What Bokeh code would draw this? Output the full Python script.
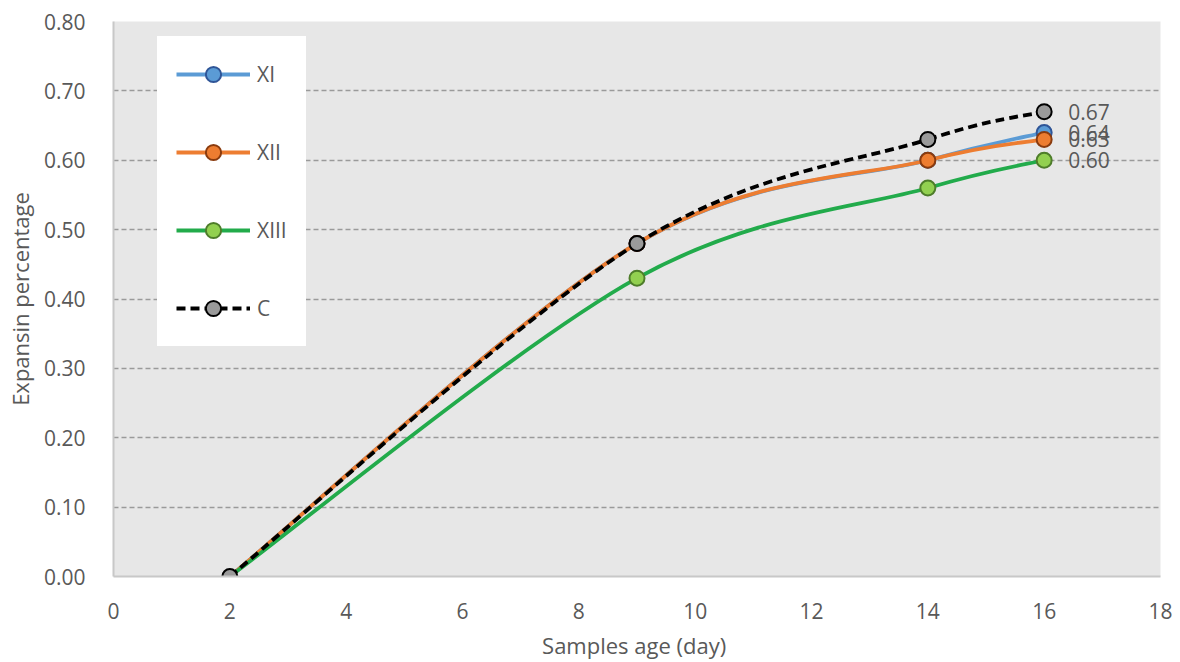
from bokeh.plotting import figure
from bokeh.models import ColumnDataSource, Legend, LegendItem, Range1d, FixedTicker, CustomJSTickFormatter
from bokeh.core.properties import value
from bokeh.embed import file_html
from bokeh.resources import INLINE

days = [2, 9, 14, 16]
series_names = ["XI", "XII", "XIII", "C"]
xi = [0.00, 0.48, 0.60, 0.64]
xii = [0.00, 0.48, 0.60, 0.63]
xiii = [0.00, 0.43, 0.56, 0.60]
c = [0.00, 0.48, 0.63, 0.67]
end_labels = ["0.64", "0.63", "0.60", "0.67"]

FONT = "Open Sans"
TXT = "#595959"

p = figure(width=1180, height=662, output_backend="svg", toolbar_location=None,
           x_range=Range1d(0, 18), y_range=Range1d(0, 0.8),
           min_border_left=113, min_border_right=20, min_border_top=21, min_border_bottom=86)
p.background_fill_color = "#e7e7e7"
p.border_fill_color = "white"
p.outline_line_color = None

p.xaxis.ticker = FixedTicker(ticks=list(range(0, 19, 2)))
p.yaxis.ticker = FixedTicker(ticks=[i / 10 for i in range(0, 9)])
p.yaxis.formatter = CustomJSTickFormatter(code="return tick.toFixed(2);")
for ax in (p.xaxis[0], p.yaxis[0]):
    ax.major_tick_line_color = None
    ax.minor_tick_line_color = None
    ax.axis_line_color = "#c8c8c8"
    ax.axis_line_width = 2
    ax.major_label_text_font = FONT
    ax.major_label_text_font_size = "21px"
    ax.major_label_text_color = TXT
    ax.axis_label_text_font = FONT
    ax.axis_label_text_font_size = "22px"
    ax.axis_label_text_color = TXT
    ax.axis_label_text_font_style = "normal"
p.xaxis.axis_label = "Samples  age (day)"
p.yaxis.axis_label = "Expansin percentage"
p.xaxis.major_label_standoff = 20
p.yaxis.major_label_standoff = 22
p.xaxis.axis_label_standoff = 8
p.yaxis.axis_label_standoff = 6

p.xgrid.grid_line_color = None
p.ygrid.grid_line_color = "#9a9a9a"
p.ygrid.grid_line_width = 1.5
p.ygrid.grid_line_dash = "5 3"


def smooth(xs, ys):
    n = len(xs)
    x0, y0, x1, y1, cx0, cy0, cx1, cy1 = [], [], [], [], [], [], [], []
    for i in range(n - 1):
        pm = max(i - 1, 0)
        pp = min(i + 2, n - 1)
        x0.append(xs[i]); y0.append(ys[i])
        x1.append(xs[i + 1]); y1.append(ys[i + 1])
        cx0.append(xs[i] + (xs[i + 1] - xs[pm]) / 6)
        cy0.append(ys[i] + (ys[i + 1] - ys[pm]) / 6)
        cx1.append(xs[i + 1] - (xs[pp] - xs[i]) / 6)
        cy1.append(ys[i + 1] - (ys[pp] - ys[i]) / 6)
    return dict(x0=x0, y0=y0, x1=x1, y1=y1, cx0=cx0, cy0=cy0, cx1=cx1, cy1=cy1)


styles = [
    ("XI", xi, "#5b9bd5", "#5b9bd5", "#2f5597", "solid"),
    ("XII", xii, "#ed7d31", "#ed7d31", "#8a3b0e", "solid"),
    ("XIII", xiii, "#22ab4b", "#92d050", "#4e7d2a", "solid"),
    ("C", c, "#000000", "#9a9a9a", "#000000", "9 5"),
]

items = []
for name, ys, lc, fc, oc, dash in styles:
    src = ColumnDataSource(smooth(days, ys))
    p.bezier(x0="x0", y0="y0", x1="x1", y1="y1", cx0="cx0", cy0="cy0", cx1="cx1", cy1="cy1",
             source=src, line_color=lc, line_width=3.8, line_dash=dash)
    leg_line = p.line(x=days[:1], y=ys[:1], line_color=lc, line_width=3.8, line_dash=dash)
    pts = p.scatter(x=days[1:], y=ys[1:], size=15, fill_color=fc, line_color=oc, line_width=2)
    items.append(LegendItem(label=name, renderers=[leg_line, pts]))

# start point (all series share it)
p.scatter(x=[days[0]], y=[c[0]], size=15, fill_color="#9a9a9a", line_color="#000000", line_width=2)

lab_src = ColumnDataSource(dict(x=[days[-1]] * 4, y=[xi[-1], xii[-1], xiii[-1], c[-1]], t=end_labels))
p.text(x="x", y="y", text="t", source=lab_src, x_offset=24, text_baseline="middle",
       text_align="left", text_font=value(FONT), text_font_size="21px", text_color=TXT)

legend = Legend(items=items, location=(44, 230), orientation="vertical",
                glyph_width=74, glyph_height=38, spacing=40, padding=19, label_standoff=7,
                label_text_font=FONT, label_text_font_size="21px", label_text_color=TXT,
                background_fill_color="white", background_fill_alpha=1.0,
                border_line_alpha=0, margin=0)
p.add_layout(legend, "center")

open("out.html", "w").write(file_html(p, INLINE))
